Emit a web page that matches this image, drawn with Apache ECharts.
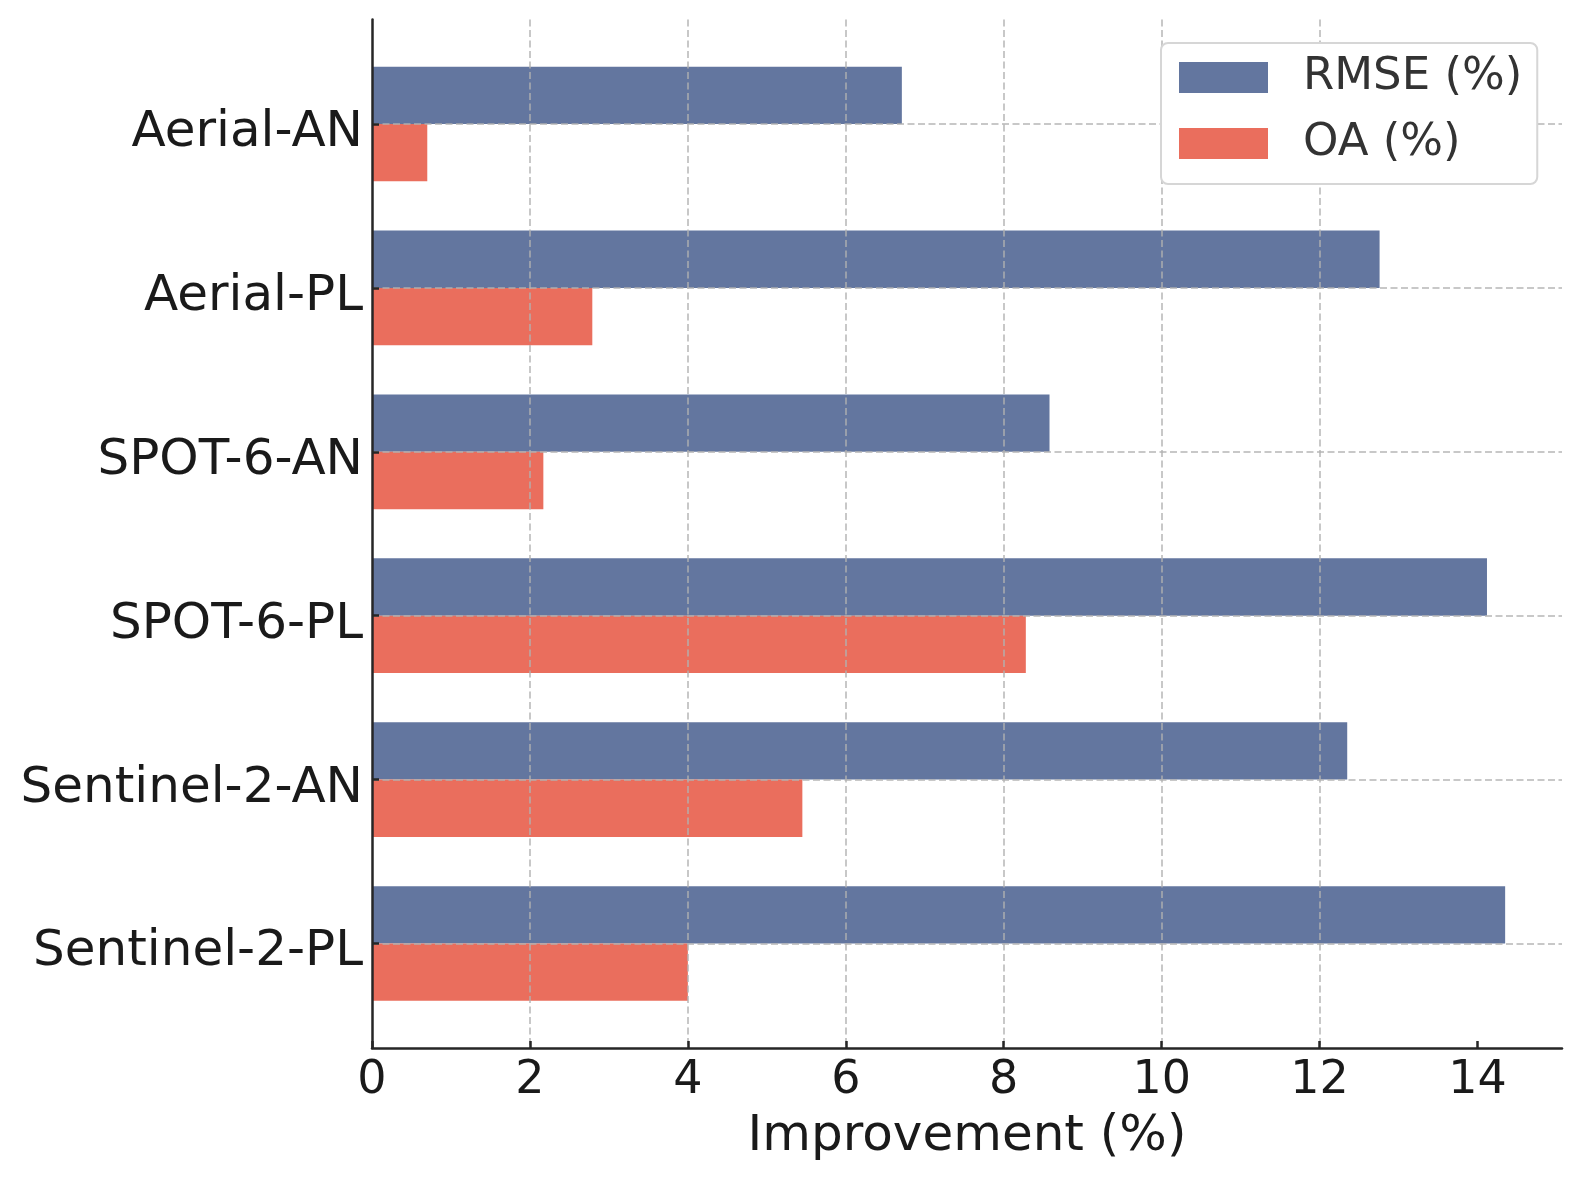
<!DOCTYPE html>
<html>
<head>
<meta charset="utf-8">
<script src="https://cdn.jsdelivr.net/npm/echarts@6/dist/echarts.min.js"></script>
<style>
html,body{margin:0;padding:0;background:#fff;}
#chart{width:1580px;height:1180px;}
</style>
</head>
<body>
<div id="chart"></div>
<script>
const categories = ['Aerial-AN', 'Aerial-PL', 'SPOT-6-AN', 'SPOT-6-PL', 'Sentinel-2-AN', 'Sentinel-2-PL'];
const rmseValues = [6.71, 12.76, 8.58, 14.12, 12.35, 14.35];
const oaValues = [0.70, 2.79, 2.17, 8.28, 5.45, 4.00];
const xTickValues = [0, 2, 4, 6, 8, 10, 12, 14];
const xMax = 15.07;
const seriesNames = ['RMSE (%)', 'OA (%)'];
const xAxisName = 'Improvement (%)';

const FONT = 'DejaVu Sans';
const SPINE = '#262626';
const GRIDC = 'rgba(176,176,176,0.7)';
const dashed = { color: GRIDC, width: 2, type: [7, 3.5] };

const chart = echarts.init(document.getElementById('chart'), null, { renderer: 'canvas' });
chart.setOption({
  backgroundColor: '#ffffff',
  animation: false,
  textStyle: { fontFamily: FONT },
  grid: [
    { left: 372, right: 18, top: 19.5, bottom: 132 },
    { left: 372, right: 18, top: 124, bottom: 236.5 }
  ],
  legend: {
    data: seriesNames,
    orient: 'vertical',
    left: 1161,
    top: 43,
    icon: 'rect',
    itemWidth: 89,
    itemHeight: 31,
    itemGap: 21,
    padding: [12, 15, 18, 18],
    backgroundColor: '#ffffff',
    borderColor: '#d6d6d6',
    borderWidth: 2,
    borderRadius: 7,
    z: 10,
    itemStyle: { borderWidth: 0 },
    textStyle: { fontFamily: FONT, fontSize: 45, color: '#333333', padding: [0, 0, 0, 30] }
  },
  xAxis: [
    {
      type: 'value', gridIndex: 0, min: 0, max: xMax, interval: 2, z: 3,
      name: xAxisName, nameLocation: 'middle', nameGap: 64,
      nameTextStyle: { fontFamily: FONT, fontSize: 50, color: '#1a1a1a' },
      axisLine: { show: true, lineStyle: { color: SPINE, width: 2.5 } },
      axisTick: { show: true, inside: true, length: 7, lineStyle: { color: SPINE, width: 2.5 }, customValues: xTickValues },
      axisLabel: { show: true, margin: 10, fontFamily: FONT, fontSize: 46, color: '#1a1a1a', customValues: xTickValues },
      splitLine: { show: true, showMinLine: false, showMaxLine: false, lineStyle: dashed }
    },
    {
      type: 'value', gridIndex: 1, min: 0, max: xMax, show: false,
      splitLine: { show: false }
    }
  ],
  yAxis: [
    {
      type: 'value', gridIndex: 0, min: 0, max: 1, z: 3,
      axisLine: { show: true, lineStyle: { color: SPINE, width: 2.5 } },
      axisTick: { show: false }, axisLabel: { show: false }, splitLine: { show: false }
    },
    {
      type: 'category', gridIndex: 1, data: categories, inverse: true, boundaryGap: false, z: 3,
      axisLine: { show: false },
      axisTick: { show: true, inside: true, length: 7, interval: 0, lineStyle: { color: SPINE, width: 2.5 } },
      axisLabel: { show: true, interval: 0, margin: 9, fontFamily: FONT, fontSize: 50, color: '#1a1a1a', verticalAlign: 'top', lineHeight: 18 },
      splitLine: { show: true, interval: 0, lineStyle: dashed }
    }
  ],
  series: [
    {
      name: seriesNames[0], type: 'bar', xAxisIndex: 1, yAxisIndex: 1,
      data: rmseValues, barWidth: '35%', barGap: '0%',
      itemStyle: { color: '#63769f' }
    },
    {
      name: seriesNames[1], type: 'bar', xAxisIndex: 1, yAxisIndex: 1,
      data: oaValues, barWidth: '35%', barGap: '0%',
      itemStyle: { color: '#ea6e5d' }
    }
  ]
});
</script>
</body>
</html>
